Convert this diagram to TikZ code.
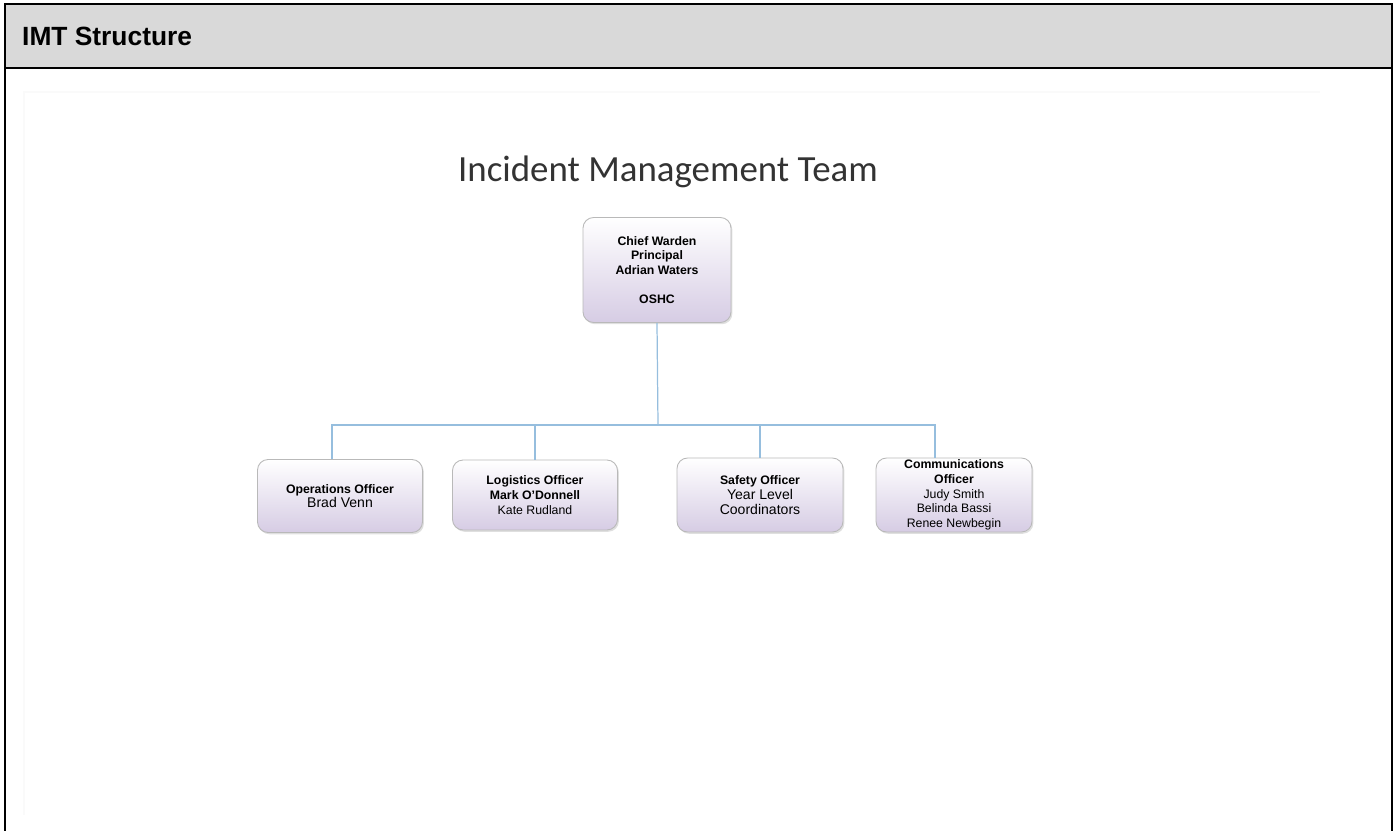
\documentclass[tikz,border=0pt]{standalone}
\usepackage{fontspec}
\setmainfont{Liberation Sans}
\newfontfamily\titlefont{Carlito}
\usetikzlibrary{shadows}
\definecolor{headgray}{RGB}{217,217,217}
\definecolor{linkblue}{RGB}{150,190,222}
\definecolor{boxlilac}{RGB}{214,204,228}
\tikzset{
  rolebox/.style={draw=gray!55, line width=0.5pt, rounded corners=6pt,
    top color=white, bottom color=boxlilac, align=center,
    font=\fontsize{7}{8.4}\selectfont,
    drop shadow={opacity=0.25, shadow xshift=0.8pt, shadow yshift=-1pt}},
  link/.style={draw=linkblue, line width=0.7pt}
}
\begin{document}
\begin{tikzpicture}[x=0.02cm, y=-0.02cm]
            \useasboundingbox (0,0) rectangle (1400,831);
            
            % Drawing the header band
            \fill [headgray] (5,4) rectangle (1392,68);%
            \draw [line width=1.2pt] (5,831) -- (5,4) -- (1392,4) -- (1392,831);%
            \draw [line width=1.2pt] (5,68) -- (1392,68);%
            \node [anchor=west, font=\fontsize{15}{18}\selectfont\bfseries] (head) at (16,36) {IMT Structure};%
            
            % Drawing the faint edge of the pasted chart
            \draw [gray!4, line width=1pt] (1320,92) -- (24,92) -- (24,815);%
            
            % Drawing the title
            \node [font=\titlefont\fontsize{21}{25}\selectfont, text=black!80] (title) at (668,172) {Incident Management Team};%
            
            % Drawing the chief warden box
            \node [rolebox, minimum width=2.96cm, minimum height=2.1cm] (chief) at (657,270)
              {\textbf{Chief Warden}\\ \textbf{Principal}\\ \textbf{Adrian Waters}\\[8pt] \textbf{OSHC}};%
            
            % Drawing the officer boxes
            \node [rolebox, minimum width=3.3cm, minimum height=1.46cm] (ops) at (340,496)
              {\textbf{Operations Officer}\\ {\fontsize{8}{9}\selectfont Brad Venn}};%
            \node [rolebox, minimum width=3.3cm, minimum height=1.40cm] (logi) at (535,495)
              {\textbf{Logistics Officer}\\ \textbf{Mark O'Donnell}\\ Kate Rudland};%
            \node [rolebox, minimum width=3.32cm, minimum height=1.48cm] (safety) at (760,495)
              {\textbf{Safety Officer}\\ {\fontsize{8}{9.5}\selectfont Year Level}\\ {\fontsize{8}{9.5}\selectfont Coordinators}};%
            \node [rolebox, minimum width=3.12cm, minimum height=1.48cm, inner sep=1pt] (comms) at (954,495)
              {\textbf{Communications}\\ \textbf{Officer}\\ Judy Smith\\ Belinda Bassi\\ Renee Newbegin};%
            
            % Drawing the connectors
            \coordinate (bus) at (658,425);%
            \draw [link] (chief.south) -- (bus);%
            \draw [link] ([xshift=-0.16cm]ops.north) |- (bus);%
            \draw [link] (logi.north) |- (bus);%
            \draw [link] (safety.north) |- (bus);%
            \draw [link] ([xshift=-0.38cm]comms.north) |- (bus);%
\end{tikzpicture}
\end{document}
